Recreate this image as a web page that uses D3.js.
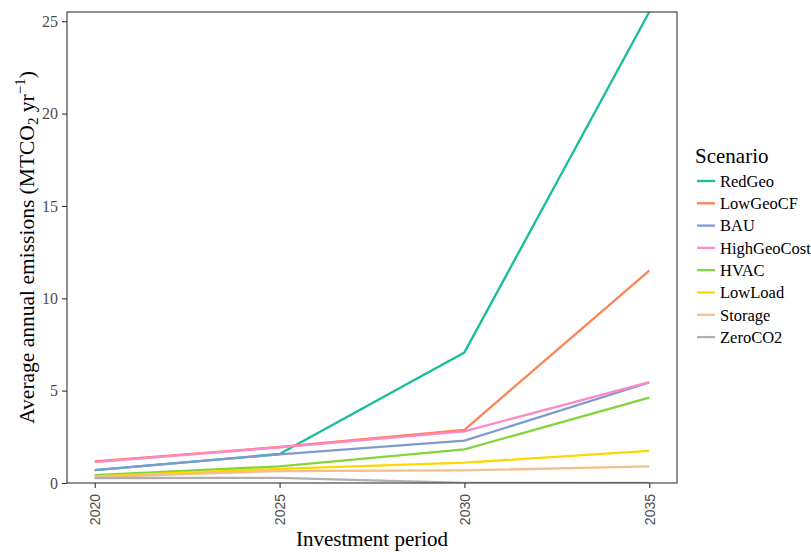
<!DOCTYPE html>
<html><head><meta charset="utf-8">
<script src="https://cdn.jsdelivr.net/npm/d3@7"></script>
<style>body{margin:0;background:#fff}</style>
</head><body>
<svg id="chart" width="811" height="552"></svg>
<script>
const years = [2020, 2025, 2030, 2035];
const scenarios = ["RedGeo","LowGeoCF","BAU","HighGeoCost","HVAC","LowLoad","Storage","ZeroCO2"];
const RedGeo      = [0.70, 1.57, 7.07, 25.5];
const LowGeoCF    = [1.17, 1.95, 2.88, 11.5];
const BAU         = [0.70, 1.55, 2.29, 5.44];
const HighGeoCost = [1.13, 1.93, 2.80, 5.46];
const HVAC        = [0.42, 0.90, 1.82, 4.62];
const LowLoad     = [0.36, 0.77, 1.10, 1.74];
const Storage     = [0.32, 0.65, 0.68, 0.90];
const ZeroCO2     = [0.27, 0.28, 0.00, 0.00];
const seriesValues = {RedGeo, LowGeoCF, BAU, HighGeoCost, HVAC, LowLoad, Storage, ZeroCO2};
const colors = ["#19BC9B","#FC8355","#7F9ACF","#FF88C8","#84D43C","#FFD700","#F2C08E","#B0B0B0"];
const yTicks = [0, 5, 10, 15, 20, 25];
const xTicks = years;

const svg = d3.select("#chart");
const L = 67, R = 677, T = 12, B = 483;
const x = d3.scaleLinear().domain([2019.25, 2035.75]).range([L, R]);
const y = d3.scaleLinear().domain([0, 25.5]).range([B, T]);

svg.append("clipPath").attr("id","clip").append("rect")
  .attr("x", L).attr("y", T).attr("width", R - L).attr("height", B - T);

const line = d3.line().x(d => x(d.year)).y(d => y(d.v));
const g = svg.append("g").attr("clip-path","url(#clip)");
scenarios.forEach((s, i) => {
  const pts = years.map((yr, j) => ({year: yr, v: seriesValues[s][j]}));
  g.append("path").datum(pts).attr("d", line)
    .attr("fill","none").attr("stroke", colors[i]).attr("stroke-width", 2.3)
    .attr("stroke-linejoin","round");
});

// panel border
svg.append("rect").attr("x", L).attr("y", T).attr("width", R - L).attr("height", B - T)
  .attr("fill","none").attr("stroke","#333").attr("stroke-width",1.1);

// y axis
const yAxis = d3.axisLeft(y).tickValues(yTicks).tickSize(5).tickPadding(4);
const ya = svg.append("g").attr("transform",`translate(${L},0)`).call(yAxis);
ya.select(".domain").remove();
ya.selectAll(".tick line").attr("stroke","#333").attr("stroke-width",1.1);
ya.selectAll(".tick text").attr("font-family","'Liberation Serif', serif").attr("font-size",16).attr("fill","#4d4d4d");

// x axis
const xAxis = d3.axisBottom(x).tickValues(xTicks).tickFormat(d3.format("d")).tickSize(5);
const xa = svg.append("g").attr("transform",`translate(0,${B})`).call(xAxis);
xa.select(".domain").remove();
xa.selectAll(".tick line").attr("stroke","#333").attr("stroke-width",1.1);
xa.selectAll(".tick text")
  .attr("font-family","'Liberation Sans', Arial, sans-serif").attr("font-size",14).attr("fill","#4d4d4d")
  .attr("transform","rotate(-90)").attr("text-anchor","end")
  .attr("x", -11).attr("y", 0).attr("dy","0.35em");

// axis titles
svg.append("text").attr("x", (L + R) / 2).attr("y", 546)
  .attr("text-anchor","middle").attr("font-family","'Liberation Serif', serif").attr("font-size",21)
  .attr("fill","#000").text("Investment period");

const yt = svg.append("text").attr("transform",`translate(34,${(T + B) / 2}) rotate(-90)`)
  .attr("text-anchor","middle").attr("font-family","'Liberation Serif', serif").attr("font-size",21.5).attr("fill","#000");
yt.append("tspan").text("Average annual emissions (MTCO");
yt.append("tspan").attr("font-size",15).attr("dy",4).text("2");
yt.append("tspan").attr("dy",-4).text(" yr");
yt.append("tspan").attr("font-size",15).attr("dy",-9).text("−1");
yt.append("tspan").attr("dy",9).text(")");

// legend
const lg = svg.append("g").attr("transform","translate(695,0)");
lg.append("text").attr("x",0).attr("y",163).attr("font-family","'Liberation Serif', serif")
  .attr("font-size",21).attr("fill","#000").text("Scenario");
scenarios.forEach((s, i) => {
  const yy = 181 + i * 22.3;
  lg.append("line").attr("x1",2).attr("x2",20).attr("y1",yy).attr("y2",yy)
    .attr("stroke", colors[i]).attr("stroke-width",2.3);
  lg.append("text").attr("x",25).attr("y",yy).attr("dy","0.35em")
    .attr("font-family","'Liberation Serif', serif").attr("font-size",16.5).attr("fill","#000").text(s);
});
</script>
</body></html>
